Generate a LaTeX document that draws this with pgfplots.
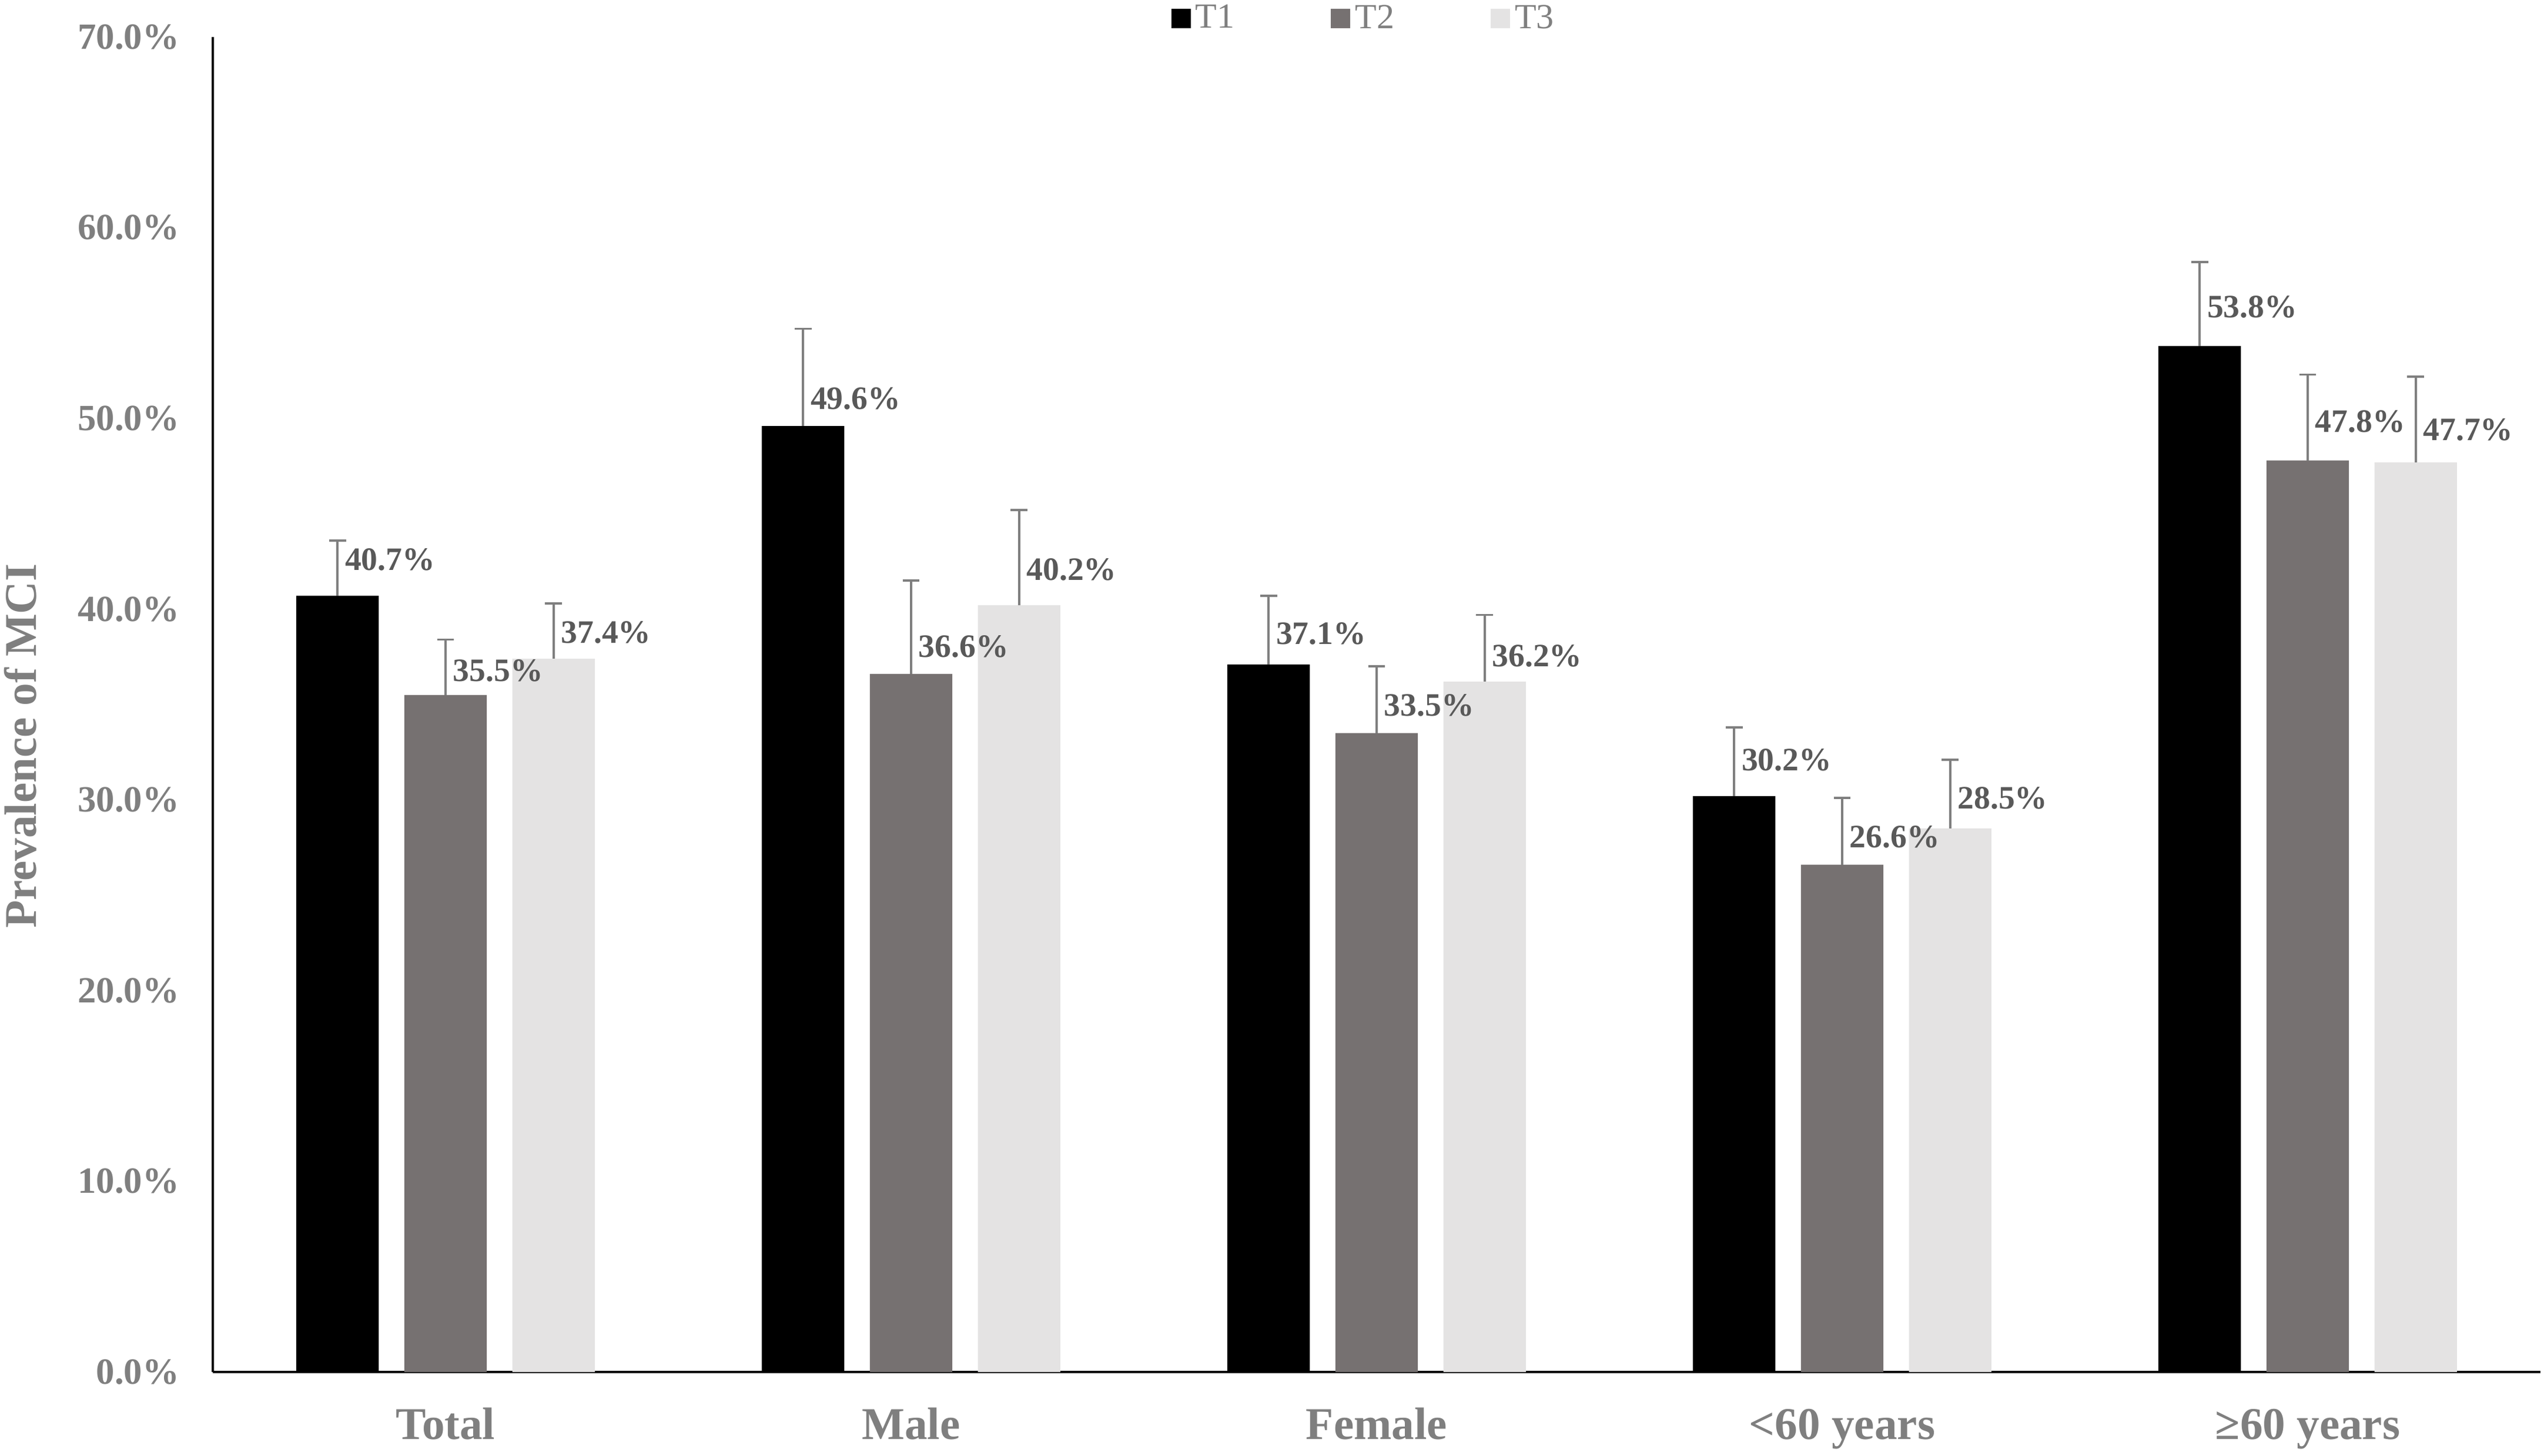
\documentclass[border=0pt]{standalone}
\usepackage{fontspec}
\setmainfont{Liberation Serif}
\usepackage{pgfplots}
\usepackage{pgfplotstable}
\pgfplotsset{compat=1.18}
\usetikzlibrary{calc}
\definecolor{cTone}{HTML}{000000}
\definecolor{cTtwo}{HTML}{767171}
\definecolor{cTthree}{HTML}{E4E3E3}
\definecolor{gtick}{HTML}{7F7F7F}
\definecolor{glab}{HTML}{595959}

\pgfplotstableread{
x y e dy
0 40.7 2.9 15.5
1 49.6 5.1 11.75
2 37.1 3.6 13
3 30.2 3.6 15.25
4 53.8 4.4 16.5
}\Tone
\pgfplotstableread{
x y e dy
0 35.5 2.9 10.25
1 36.6 4.9 11.75
2 33.5 3.5 11.75
3 26.6 3.5 11.75
4 47.8 4.5 16.5
}\Ttwo
\pgfplotstableread{
x y e dy
0 37.4 2.9 11.25
1 40.2 5.0 15.25
2 36.2 3.5 11
3 28.5 3.6 13
4 47.7 4.5 13.75
}\Tthree

\begin{document}
\begin{tikzpicture}
\begin{axis}[
  scale only axis,
  width=990pt, height=568pt,
  xmin=-0.5, xmax=4.5, ymin=0, ymax=70,
  enlargelimits=false,
  clip=false,
  axis x line=bottom, axis y line=left,
  axis line style={-, black, line width=1.1pt},
  major tick length=0pt,
  ytick={0,10,...,70},
  xtick={0,1,2,3,4},
  xticklabels={Total,Male,Female,<60 years,≥60 years},
  /pgf/number format/assume math mode=true,
  yticklabel={\pgfmathprintnumber[fixed,fixed zerofill,precision=1]{\tick}\%},
  yticklabel style={font=\fontsize{15.7}{18}\selectfont\bfseries, text=gtick, inner sep=0pt, anchor=east, xshift=-14pt},
  xticklabel style={font=\fontsize{19.3}{22}\selectfont\bfseries, text=gtick, inner sep=0pt, anchor=base, yshift=-28.75pt},
  ylabel={Prevalence of MCI},
  ylabel style={font=\fontsize{19.3}{22}\selectfont\bfseries, text=gtick, at={(axis description cs:-0.0826,0.469)}, anchor=center, rotate=0},
  ybar, bar width=0.177,
  legend style={at={(axis description cs:0.495,1.014)}, anchor=center, draw=none, fill=none,
    font=\fontsize{15}{17}\selectfont, text=gtick, legend columns=3,
    /tikz/every even column/.append style={column sep=39pt}},
  error bars/y dir=plus, error bars/y explicit,
  error bars/error bar style={color=gtick, line width=0.9pt},
  error bars/error mark options={rotate=90, color=gtick, line width=0.9pt, mark size=3.6pt},
  nodes near coords={\pgfmathprintnumber[fixed,fixed zerofill,precision=1]{\pgfplotspointmeta}\%},
  visualization depends on={\thisrow{dy}\as\dy},
  every node near coord/.append style={font=\fontsize{13.9}{16}\selectfont\bfseries, text=glab, anchor=west, inner sep=0pt, xshift=3pt, yshift=\dy pt},
]
\addplot[fill=cTone, draw=none, bar shift=-0.232,
  legend image code/.code={\fill[cTone] (0pt,-4.1pt) rectangle (8.25pt,4.1pt);}]
  table[x=x, y=y, y error plus=e]{\Tone};
\addplot[fill=cTtwo, draw=none, bar shift=0,
  legend image code/.code={\fill[cTtwo] (0pt,-4.1pt) rectangle (8.25pt,4.1pt);}]
  table[x=x, y=y, y error plus=e]{\Ttwo};
\addplot[fill=cTthree, draw=none, bar shift=0.232,
  legend image code/.code={\fill[cTthree] (0pt,-4.1pt) rectangle (8.25pt,4.1pt);}]
  table[x=x, y=y, y error plus=e]{\Tthree};
\legend{T1,T2,T3}
\coordinate (bl) at (rel axis cs:0,0);
\coordinate (tr) at (rel axis cs:1,1);
\end{axis}
\pgfresetboundingbox
\path[use as bounding box] ($(bl)+(-90.5pt,-35.75pt)$) rectangle ($(tr)+(1.5pt,15.75pt)$);
\end{tikzpicture}
\end{document}
